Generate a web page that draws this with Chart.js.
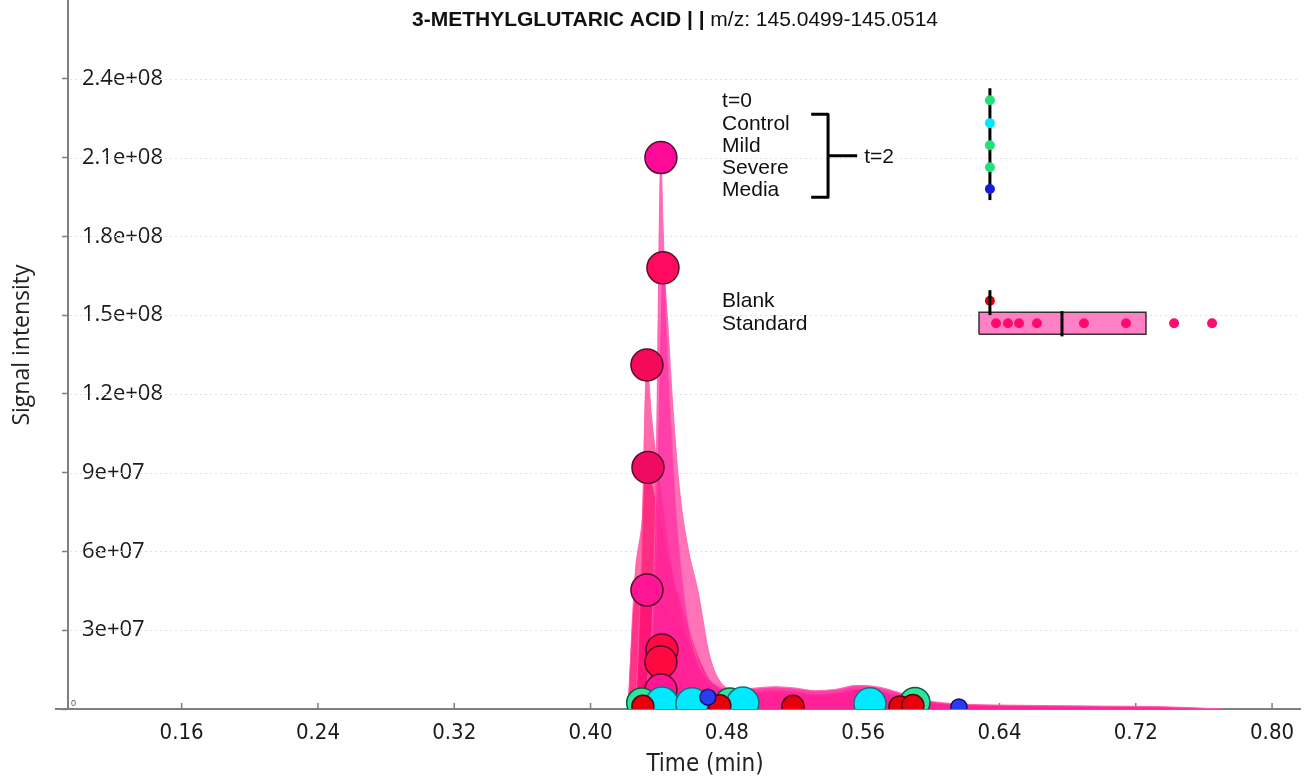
<!DOCTYPE html>
<html>
<head>
<meta charset="utf-8">
<script src="https://cdn.jsdelivr.net/npm/chart.js@4.4.1/dist/chart.umd.min.js"></script>
<style>
  html, body { margin: 0; padding: 0; background: #fff; }
</style>
</head>
<body>
<canvas id="chromatogram" width="1310" height="781"></canvas>
<script>
// intensities are in millions of counts, times in minutes

// scan times shared by the standard traces
const scanTimes = [0.422, 0.426, 0.430, 0.433, 0.436, 0.4385, 0.4413, 0.4425, 0.445, 0.448, 0.452, 0.457,
  0.463, 0.470, 0.478, 0.487, 0.497, 0.508, 0.520, 0.532, 0.544, 0.556, 0.568, 0.580, 0.592, 0.605,
  0.620, 0.640, 0.670, 0.700, 0.735, 0.770];

const std1 = [0, 1, 4, 10, 30, 90, 210, 185, 140, 100, 62, 34, 18, 11, 8, 7.5, 8, 8.5, 8, 7, 7.5, 9, 8.5, 6.5, 4, 2.5, 1.8, 1.5, 1.3, 1.1, 0.9, 0];
const std2 = [0, 1, 3, 8, 25, 60, 140, 168, 150, 118, 85, 62, 45, 20, 9, 7, 7.5, 8, 7.5, 6.5, 7, 8.5, 8, 6, 3.5, 2.2, 1.6, 1.3, 1.1, 0.9, 0.7, 0];
const std3 = [0, 2, 60, 131, 110, 96, 82, 76, 64, 52, 40, 27, 16, 9, 6.5, 6, 6.5, 7, 6.5, 5.5, 6, 7.5, 7, 5, 3, 2, 1.4, 1.1, 0.9, 0.7, 0.5, 0];
const std4 = [0, 50, 70, 92, 85, 78, 70, 66, 58, 50, 42, 32, 20, 11, 7, 6, 6, 6.5, 6, 5, 5.5, 7, 6.5, 4.5, 2.8, 1.8, 1.3, 1, 0.8, 0.6, 0.4, 0];
const std5 = [0, 40, 43, 45, 44, 42, 40, 39, 37, 35, 32, 26, 19, 11, 6.5, 5.5, 5.5, 6, 5.5, 4.5, 5, 6.5, 6, 4, 2.5, 1.6, 1.2, 0.9, 0.7, 0.5, 0.3, 0];
const std6 = [0, 3, 8, 12, 16, 20, 22.5, 22, 20, 18, 15, 12, 9, 7, 6, 5.5, 5.5, 6, 5.5, 5, 5.5, 7, 6.5, 4.5, 2.5, 1.6, 1.2, 0.9, 0.7, 0.5, 0.3, 0];
const std7 = [0, 2, 6, 10, 13, 16, 18, 17.5, 16, 14, 12, 10, 8, 6.5, 5.5, 5, 5, 5.5, 5, 4.5, 5, 6, 5.5, 4, 2.2, 1.4, 1, 0.8, 0.6, 0.4, 0.2, 0];
const std8 = [0, 1, 3, 4.5, 5.5, 6.5, 7.2, 7, 6.5, 6, 5.5, 5, 4.5, 4, 3.5, 3.2, 3.2, 3.5, 3.2, 3, 3.2, 4, 3.8, 2.8, 1.6, 1, 0.8, 0.6, 0.4, 0.3, 0.2, 0];
const standardTraces = [std1, std2, std3, std4, std5, std6, std7, std8];

// apex of each standard trace
const stdPeakTimes = [0.4413, 0.4425, 0.4331, 0.4337, 0.4331, 0.4419, 0.4413, 0.4413];
const stdPeakValues = [210, 168, 131, 92, 45.3, 22.5, 17.9, 7.2];

// apexes of the other samples, all close to the baseline
const controlTimes = [0.4419, 0.4595, 0.4894, 0.5640];
const controlValues = [2.3, 2.0, 2.3, 2.0];
const treatedTimes = [0.4300, 0.4818, 0.5904];
const treatedValues = [2.3, 2.3, 2.5];
const blankTimes = [0.4307, 0.4759, 0.5188, 0.5816, 0.5892];
const blankValues = [1.0, 1.2, 1.0, 0.8, 1.3];
const mediaTimes = [0.4689, 0.6162];
const mediaValues = [4.5, 0.8];

// inset strip plot of peak areas
const groupLabels = ['t=0', 'Control', 'Mild', 'Severe', 'Media'];
const groupRowValues = [231.8, 223.1, 214.7, 206.3, 198.0];
const groupStemRange = [193.8, 236.4];
const lowerLabels = ['Blank', 'Standard'];
const lowerRowValues = [155.5, 146.9];
const blankStemRange = [150.0, 159.5];
const insetStemTime = 0.6344;
const stdAreaTimes = [0.6380, 0.6450, 0.6515, 0.6620, 0.6896, 0.7143, 0.7425, 0.7648];
const stdBoxStats = [0.6280, 0.6767, 0.7260]; // q1, median, q3
const stdBoxRange = [142.7, 151.1];

const xTicks = [0.16, 0.24, 0.32, 0.40, 0.48, 0.56, 0.64, 0.72, 0.80];
const xTickLabels = ['0.16', '0.24', '0.32', '0.40', '0.48', '0.56', '0.64', '0.72', '0.80'];
const yTicks = [0, 30, 60, 90, 120, 150, 180, 210, 240];
const yTickLabels = ['0', '3e+07', '6e+07', '9e+07', '1.2e+08', '1.5e+08', '1.8e+08', '2.1e+08', '2.4e+08'];

const pts = (xa, ya) => xa.map((x, i) => ({x: x, y: ya[i]}));

const traceFills = ['rgba(255,40,160,0.68)', 'rgba(255,30,140,0.62)', 'rgba(255,0,105,0.58)', 'rgba(255,0,100,0.58)',
  'rgba(255,20,130,0.55)', 'rgba(255,0,90,0.5)', 'rgba(255,0,90,0.5)', 'rgba(255,20,120,0.5)'];
const peakColors = ['#ff0a98', '#ff0a5e', '#f50a5a', '#f00a62', '#ff1496', '#ff0a40', '#ff0a40', '#ff1493'];
const groupDotColors = ['#22e07a', '#00e8ff', '#22e07a', '#22e07a', '#1a1ae0'];

const traceSets = standardTraces.map((vals, k) => ({
  type: 'line',
  data: pts(scanTimes, vals),
  fill: 'origin',
  backgroundColor: traceFills[k],
  borderColor: 'rgba(255,90,170,0.85)',
  borderWidth: 1,
  pointRadius: 0,
  cubicInterpolationMode: 'monotone',
  order: 20 + k
}));

const marker = (data, fillColor, edge, r, order) => ({
  type: 'scatter', data: data, pointBackgroundColor: fillColor, pointBorderColor: edge,
  pointBorderWidth: 1.5, pointRadius: r, pointHoverRadius: r, order: order
});

const insetSets = [
  {type: 'line', data: pts([insetStemTime, insetStemTime], groupStemRange), borderColor: '#000', borderWidth: 3, pointRadius: 0, order: 1},
  {type: 'scatter', data: pts(groupRowValues.map(() => insetStemTime), groupRowValues), pointBackgroundColor: groupDotColors, pointBorderWidth: 0, pointRadius: 5, order: 0},
  {type: 'line', data: pts([insetStemTime, insetStemTime], blankStemRange), borderColor: '#000', borderWidth: 3, pointRadius: 0, order: 0},
  {type: 'scatter', data: pts([insetStemTime], [lowerRowValues[0]]), pointBackgroundColor: '#e0000a', pointBorderWidth: 0, pointRadius: 5, order: 1},
  {type: 'line', data: pts([stdBoxStats[0], stdBoxStats[2]], [stdBoxRange[1], stdBoxRange[1]]), fill: {value: stdBoxRange[0]},
    backgroundColor: '#ff80c4', borderWidth: 0, pointRadius: 0, order: 4},
  {type: 'line', data: pts([stdBoxStats[0], stdBoxStats[2], stdBoxStats[2], stdBoxStats[0], stdBoxStats[0]],
    [stdBoxRange[0], stdBoxRange[0], stdBoxRange[1], stdBoxRange[1], stdBoxRange[0]]), borderColor: '#333', borderWidth: 1.5, pointRadius: 0, order: 3},
  {type: 'line', data: pts([stdBoxStats[1], stdBoxStats[1]], [stdBoxRange[0] - 0.8, stdBoxRange[1] + 0.4]), borderColor: '#000', borderWidth: 3, pointRadius: 0, order: 2},
  {type: 'scatter', data: pts(stdAreaTimes, stdAreaTimes.map(() => lowerRowValues[1])), pointBackgroundColor: '#ff0a6e', pointBorderWidth: 0, pointRadius: 5, order: 2}
];

const markerSets = [
  marker(pts(stdPeakTimes, stdPeakValues), peakColors, '#5a0a2a', 16, 12),
  marker(pts(treatedTimes, treatedValues), '#2ee59d', '#0d5a3a', 15, 11),
  marker(pts(blankTimes, blankValues), '#e8000c', '#5c0008', 11, 9),
  marker(pts(controlTimes, controlValues), '#00eaff', '#14707c', 16, 10),
  marker(pts(mediaTimes, mediaValues), '#2a3cf0', '#101070', 8, 8)
];

const annotate = {
  id: 'annotate',
  beforeDatasetsDraw(chart) {
    const {ctx, chartArea} = chart;
    const xs = chart.scales.x, ys = chart.scales.y;
    ctx.save();
    // faint dotted grid
    ctx.strokeStyle = '#e2e2e2';
    ctx.lineWidth = 1;
    ctx.setLineDash([2, 3]);
    yTicks.slice(1).forEach(v => {
      const y = Math.round(ys.getPixelForValue(v)) + 0.5;
      ctx.beginPath(); ctx.moveTo(chartArea.left + 2, y); ctx.lineTo(chartArea.right, y); ctx.stroke();
    });
    ctx.setLineDash([]);
    // inward tick marks on the time axis
    ctx.strokeStyle = '#7f7f7f';
    ctx.lineWidth = 1.5;
    xTicks.forEach(t => {
      const x = xs.getPixelForValue(t);
      ctx.beginPath(); ctx.moveTo(x, chartArea.bottom); ctx.lineTo(x, chartArea.bottom - 6); ctx.stroke();
    });
    ctx.restore();
  },
  afterDatasetsDraw(chart) {
    const {ctx, chartArea} = chart;
    const xs = chart.scales.x, ys = chart.scales.y;
    const px = t => xs.getPixelForValue(t), py = v => ys.getPixelForValue(v);
    ctx.save();
    ctx.fillStyle = '#111';
    ctx.font = "21px 'Liberation Sans', Arial, sans-serif";
    ctx.textBaseline = 'middle';
    ctx.textAlign = 'left';
    const textX = px(0.4772);
    groupLabels.forEach((s, i) => ctx.fillText(s, textX, py(groupRowValues[i]) + 1));
    lowerLabels.forEach((s, i) => ctx.fillText(s, textX, py(lowerRowValues[i]) + 1));
    // bracket grouping the t=2 samples
    const bl = px(0.5295), bs = px(0.5394), be = px(0.5565);
    const bt = py(226.5), bb = py(194.9), bm = py(210.7);
    ctx.strokeStyle = '#000';
    ctx.lineWidth = 3;
    ctx.lineJoin = 'round';
    ctx.beginPath();
    ctx.moveTo(bl, bt); ctx.lineTo(bs, bt); ctx.lineTo(bs, bb); ctx.lineTo(bl, bb);
    ctx.moveTo(bs, bm); ctx.lineTo(be, bm);
    ctx.stroke();
    ctx.fillText('t=2', px(0.5606), bm + 1);
    // tiny zero at the origin
    ctx.font = "9px 'Liberation Sans', Arial, sans-serif";
    ctx.fillStyle = '#555';
    ctx.fillText('0', chartArea.left + 3, chartArea.bottom - 5);
    ctx.restore();
  },
  afterDraw(chart) {
    const {ctx, chartArea} = chart;
    ctx.save();
    // axis line stub left of the y axis
    ctx.strokeStyle = '#7f7f7f';
    ctx.lineWidth = 2;
    ctx.beginPath(); ctx.moveTo(55, chartArea.bottom); ctx.lineTo(chartArea.left, chartArea.bottom); ctx.stroke();
    // title
    ctx.fillStyle = '#111';
    ctx.textBaseline = 'alphabetic';
    ctx.textAlign = 'left';
    ctx.font = "bold 21px 'Liberation Sans', Arial, sans-serif";
    const bold = '3-METHYLGLUTARIC ACID | |';
    const rest = ' m/z: 145.0499-145.0514';
    const wb = ctx.measureText(bold).width;
    ctx.font = "21px 'Liberation Sans', Arial, sans-serif";
    const wr = ctx.measureText(rest).width;
    const x0 = 675 - (wb + wr) / 2;
    ctx.font = "bold 21px 'Liberation Sans', Arial, sans-serif";
    ctx.fillText(bold, x0, 26);
    ctx.font = "21px 'Liberation Sans', Arial, sans-serif";
    ctx.fillText(rest, x0 + wb, 26);
    // axis titles
    ctx.fillStyle = '#222';
    ctx.textAlign = 'center';
    ctx.textBaseline = 'middle';
    ctx.font = "24px 'DejaVu Sans Condensed', sans-serif";
    ctx.fillText('Time (min)', 705, 765);
    ctx.translate(22, 345);
    ctx.rotate(-Math.PI / 2);
    ctx.font = "23px 'Open Sans', sans-serif";
    ctx.fillText('Signal intensity', 0, 0);
    ctx.restore();
  }
};

new Chart(document.getElementById('chromatogram'), {
  type: 'line',
  data: {datasets: [...insetSets, ...markerSets, ...traceSets]},
  options: {
    responsive: false,
    animation: false,
    devicePixelRatio: 1,
    layout: {autoPadding: false, padding: {left: 0, right: 10, top: 0, bottom: 0}},
    plugins: {legend: {display: false}, tooltip: {enabled: false}},
    scales: {
      x: {
        type: 'linear',
        min: 0.0933,
        max: 0.8164,
        afterBuildTicks: s => { s.ticks = xTicks.map(v => ({value: v})); },
        afterFit: s => { s.height = 72; s.paddingLeft = 0; s.paddingRight = 0; },
        grid: {display: true, drawOnChartArea: false, drawTicks: false},
        border: {display: true, color: '#7f7f7f', width: 2},
        ticks: {
          padding: 11,
          maxRotation: 0,
          autoSkip: false,
          color: '#1a1a1a',
          font: {family: "'DejaVu Sans Condensed', sans-serif", size: 22},
          callback: (v, i) => xTickLabels[i]
        }
      },
      y: {
        type: 'linear',
        min: 0,
        max: 270,
        afterBuildTicks: s => { s.ticks = yTicks.map(v => ({value: v})); },
        afterFit: s => { s.width = 68; s.paddingTop = 0; s.paddingBottom = 0; },
        grid: {display: true, drawOnChartArea: false, drawTicks: true, tickLength: 6, tickColor: '#7f7f7f', tickWidth: 1.5},
        border: {display: true, color: '#7f7f7f', width: 2},
        ticks: {
          mirror: true,
          padding: 14,
          autoSkip: false,
          color: '#1a1a1a',
          font: {family: "'Open Sans', sans-serif", size: 22},
          callback: (v, i) => (i === 0 ? '' : yTickLabels[i])
        }
      }
    }
  },
  plugins: [annotate]
});
</script>
</body>
</html>
